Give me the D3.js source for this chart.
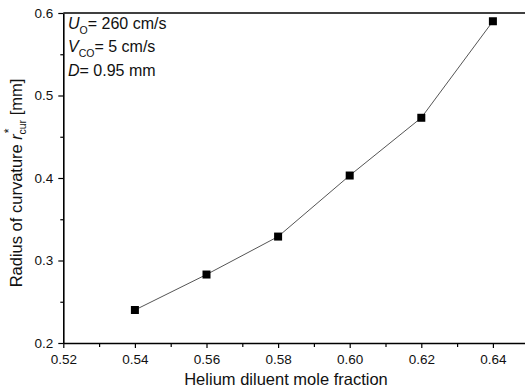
<!DOCTYPE html>
<html>
<head>
<meta charset="utf-8">
<script src="https://cdn.jsdelivr.net/npm/d3@7"></script>
<style>
  html, body { margin: 0; padding: 0; background: #fff; }
  svg { display: block; font-family: "Liberation Sans", Arial, sans-serif; }
</style>
</head>
<body>
<svg id="chart" width="525" height="390"></svg>
<script>
// Helium diluent mole fraction vs. radius of curvature
const moleFraction = [0.54, 0.56, 0.58, 0.60, 0.62, 0.64];
const radius = [0.240, 0.283, 0.329, 0.403, 0.473, 0.590];
const xTicks = [0.52, 0.54, 0.56, 0.58, 0.60, 0.62, 0.64];
const xMinor = [0.53, 0.55, 0.57, 0.59, 0.61, 0.63];
const yTicks = [0.2, 0.3, 0.4, 0.5, 0.6];
const yMinor = [0.25, 0.35, 0.45, 0.55];

const svg = d3.select("#chart");
const x = d3.scaleLinear().domain([0.52, 0.65]).range([63.3, 528.7]);
const y = d3.scaleLinear().domain([0.2, 0.6]).range([343, 13]);

// minor ticks
svg.append("g").attr("transform", `translate(0,${y(0.2)})`)
  .call(d3.axisBottom(x).tickValues(xMinor).tickSize(4).tickFormat(""))
  .call(g => g.select(".domain").remove())
  .selectAll("line").attr("stroke", "#000").attr("stroke-width", 1.2);
svg.append("g").attr("transform", `translate(${x(0.52)},0)`)
  .call(d3.axisLeft(y).tickValues(yMinor).tickSize(3).tickFormat(""))
  .call(g => g.select(".domain").remove())
  .selectAll("line").attr("stroke", "#000").attr("stroke-width", 1.2);

// major x axis
const gx = svg.append("g").attr("transform", `translate(0,${y(0.2)})`)
  .call(d3.axisBottom(x).tickValues(xTicks).tickSize(5).tickSizeOuter(0).tickPadding(6)
    .tickFormat(d3.format(".2f")));
gx.select(".domain").attr("stroke", "#000").attr("stroke-width", 1.6);
gx.selectAll(".tick line").attr("stroke", "#000").attr("stroke-width", 1.2);
gx.selectAll(".tick text").attr("font-size", 13.5).attr("fill", "#111")
  .attr("font-family", "Liberation Sans, Arial, sans-serif");

// major y axis
const gy = svg.append("g").attr("transform", `translate(${x(0.52)},0)`)
  .call(d3.axisLeft(y).tickValues(yTicks).tickSize(5).tickSizeOuter(0).tickPadding(5)
    .tickFormat(d3.format(".1f")));
gy.select(".domain").attr("stroke", "#000").attr("stroke-width", 1.6);
gy.selectAll(".tick line").attr("stroke", "#000").attr("stroke-width", 1.2);
gy.selectAll(".tick text").attr("font-size", 13.5).attr("fill", "#111")
  .attr("font-family", "Liberation Sans, Arial, sans-serif");

// top frame line
svg.append("line")
  .attr("x1", x(0.52)).attr("x2", x(0.65))
  .attr("y1", y(0.6)).attr("y2", y(0.6))
  .attr("stroke", "#000").attr("stroke-width", 1.6);

// data line
const pts = moleFraction.map((m, i) => [m, radius[i]]);
svg.append("path")
  .datum(pts)
  .attr("fill", "none")
  .attr("stroke", "#555")
  .attr("stroke-width", 1)
  .attr("d", d3.line().x(d => x(d[0])).y(d => y(d[1])));

// square markers
const s = 8;
svg.append("g").selectAll("rect")
  .data(pts).join("rect")
  .attr("x", d => x(d[0]) - s / 2)
  .attr("y", d => y(d[1]) - s / 2)
  .attr("width", s).attr("height", s)
  .attr("fill", "#000");

// axis titles
svg.append("text")
  .attr("x", 286).attr("y", 385)
  .attr("text-anchor", "middle")
  .attr("font-size", 16.5).attr("fill", "#111")
  .text("Helium diluent mole fraction");

const yt = svg.append("text")
  .attr("transform", "translate(22,183) rotate(-90)")
  .attr("text-anchor", "middle")
  .attr("font-size", 16.5).attr("fill", "#111");
yt.append("tspan").text("Radius of curvature ");
yt.append("tspan").attr("font-style", "italic").text("r");
yt.append("tspan").attr("font-size", 12).attr("dy", -9).attr("dx", 1).text("*");
yt.append("tspan").attr("font-size", 10.5).attr("dy", 13).attr("dx", -6).text("cur");
yt.append("tspan").attr("dy", -4).text(" [mm]");

// condition annotations
const ann = svg.append("g").attr("font-size", 16).attr("fill", "#111");
const l1 = ann.append("text").attr("x", 68).attr("y", 29);
l1.append("tspan").attr("font-style", "italic").text("U");
l1.append("tspan").attr("font-size", 10.5).attr("dy", 5).text("O");
l1.append("tspan").attr("dy", -5).text("= 260 cm/s");

const l2 = ann.append("text").attr("x", 68).attr("y", 52);
l2.append("tspan").attr("font-style", "italic").text("V");
l2.append("tspan").attr("font-size", 10.5).attr("dy", 5).text("CO");
l2.append("tspan").attr("dy", -5).text("= 5 cm/s");

const l3 = ann.append("text").attr("x", 68).attr("y", 76);
l3.append("tspan").attr("font-style", "italic").text("D");
l3.append("tspan").text("= 0.95 mm");
</script>
</body>
</html>
